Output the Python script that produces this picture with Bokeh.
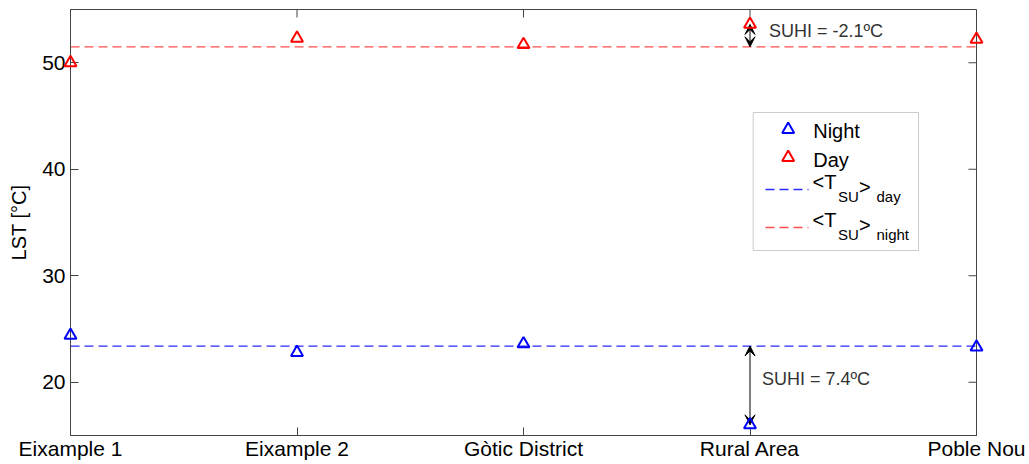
from bokeh.plotting import figure
from bokeh.models import (Range1d, FixedTicker, Label, BoxAnnotation,
                          Arrow, VeeHead, ColumnDataSource)
from bokeh.embed import file_html
from bokeh.resources import INLINE

# ---- data ----
sites = ["Eixample 1", "Eixample 2", "Gòtic District", "Rural Area", "Poble Nou"]
night_lst = [24.4, 22.8, 23.6, 16.0, 23.3]
day_lst = [50.0, 52.3, 51.7, 53.6, 52.2]
mean_night = 23.4
mean_day = 51.5
y_ticks = [20, 30, 40, 50]
rural_idx = 3

xpos = list(range(1, len(sites) + 1))
X0, X1, Y0, Y1 = 1, 5, 15, 55

FONT = "Liberation Sans"
AX = "#444444"

W, H = 1029, 464
FL, FR, FT, FB = 70, 976, 9, 435   # frame edges in pixels

p = figure(width=W, height=H, x_range=Range1d(X0, X1), y_range=Range1d(Y0, Y1),
           output_backend="svg", toolbar_location=None,
           min_border_left=FL, min_border_right=W - FR, min_border_top=FT,
           min_border_bottom=H - FB)
p.xgrid.visible = False
p.ygrid.visible = False
p.outline_line_color = AX
p.outline_line_width = 1
p.background_fill_color = "white"
p.border_fill_color = "white"

xa = p.xaxis[0]
xa.ticker = FixedTicker(ticks=xpos)
xa.major_label_overrides = {i: s for i, s in zip(xpos, sites)}
ya = p.yaxis[0]
ya.ticker = FixedTicker(ticks=y_ticks)
ya.axis_label = "LST [°C]"
for ax in (xa, ya):
    ax.major_tick_in = 8
    ax.major_tick_out = 0
    ax.minor_tick_line_color = None
    ax.axis_line_color = AX
    ax.major_tick_line_color = AX
    ax.major_label_text_font = FONT
    ax.major_label_text_font_size = "21px"
    ax.major_label_text_color = "black"
xa.major_label_standoff = 1
ya.major_label_standoff = 5
ya.axis_label_text_font = FONT
ya.axis_label_text_font_size = "20px"
ya.axis_label_text_font_style = "normal"
ya.axis_label_text_color = "black"
ya.axis_label_standoff = 9

# inward ticks on the top and right edges of the box (8 px long)
tx = 8 * (X1 - X0) / (FR - FL)
ty = 8 * (Y1 - Y0) / (FB - FT)
p.segment(x0=xpos, y0=[Y1] * len(xpos), x1=xpos, y1=[Y1 - ty] * len(xpos),
          line_color=AX, line_width=1)
p.segment(x0=[X1] * len(y_ticks), y0=y_ticks, x1=[X1 - tx] * len(y_ticks), y1=y_ticks,
          line_color=AX, line_width=1)

# mean lines
p.line([X0, X1], [mean_day, mean_day], line_color="#ff4d4d", line_width=1.3,
       line_dash="9 5")
p.line([X0, X1], [mean_night, mean_night], line_color="#2b2bff", line_width=1.3,
       line_dash="9 5")

# markers
src = ColumnDataSource(dict(x=xpos, night=night_lst, day=day_lst))
p.scatter("x", "night", source=src, marker="triangle", size=12, fill_color=None,
          line_color="#0000ff", line_width=2, level="overlay")
p.scatter("x", "day", source=src, marker="triangle", size=12, fill_color=None,
          line_color="#ff0000", line_width=2, level="overlay")

# SUHI arrows
xr = xpos[rural_idx]
for a, b in ((mean_day, day_lst[rural_idx]), (mean_night, night_lst[rural_idx])):
    p.add_layout(Arrow(x_start=xr, y_start=a, x_end=xr, y_end=b,
                       start=VeeHead(size=10, fill_color="black", line_color="black", line_width=1),
                       end=VeeHead(size=10, fill_color="black", line_color="black", line_width=1),
                       line_color="black", line_width=1))

suhi_day = mean_day - day_lst[rural_idx]
suhi_night = mean_night - night_lst[rural_idx]
p.add_layout(Label(x=xr, y=(mean_day + day_lst[rural_idx]) / 2, x_offset=19, y_offset=5,
                   text=f"SUHI = {suhi_day:.1f}ºC", text_baseline="middle",
                   text_font=FONT, text_font_size="18px", text_color="#333333"))
p.add_layout(Label(x=xr, y=(mean_night + night_lst[rural_idx]) / 2, x_offset=12, y_offset=6,
                   text=f"SUHI = {suhi_night:.1f}ºC", text_baseline="middle",
                   text_font=FONT, text_font_size="18px", text_color="#333333"))


# ---- custom legend (positions given in pixels) ----
def dx(px):
    return X0 + (px - FL) * (X1 - X0) / (FR - FL)


def dy(py):
    return Y0 + (FB - py) * (Y1 - Y0) / (FB - FT)


p.add_layout(BoxAnnotation(left=dx(752.7), right=dx(918), top=dy(112), bottom=dy(250),
                           fill_color="white", fill_alpha=1.0, line_color="#555555",
                           line_width=1, level="underlay"))
p.scatter([dx(787.7)], [dy(129)], marker="triangle", size=12, fill_color=None,
          line_color="#0000ff", line_width=2, level="overlay")
p.scatter([dx(787.7)], [dy(157)], marker="triangle", size=12, fill_color=None,
          line_color="#ff0000", line_width=2, level="overlay")
p.line([dx(765), dx(808)], [dy(189), dy(189)], line_color="#2b2bff", line_width=1.3,
       line_dash="9 5")
p.line([dx(765), dx(808)], [dy(227), dy(227)], line_color="#ff4d4d", line_width=1.3,
       line_dash="9 5")


def lab(txt, px, py, size):
    p.add_layout(Label(x=dx(px), y=dy(py), text=txt, text_baseline="alphabetic",
                       text_align="left", text_font=FONT, text_font_size=size,
                       text_color="black"))


lab("Night", 812.7, 130.5, "20px")
lab("Day", 812.7, 159, "20px")
for base, sub in ((181.3, "day"), (219.0, "night")):
    lab("<T", 812.0, base, "20px")
    lab("SU", 837.5, base + 15, "15px")
    lab(">", 858.5, base + 5, "20px")
    lab(sub, 876.0, base + 15, "15px")

open("out.html", "w").write(file_html(p, INLINE))
